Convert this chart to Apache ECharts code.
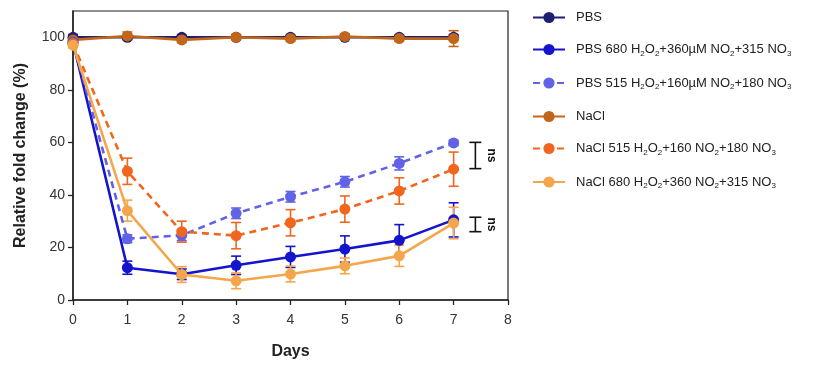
<!DOCTYPE html>
<html><head><meta charset="utf-8">
<script src="https://cdn.jsdelivr.net/npm/echarts@6/dist/echarts.min.js"></script>
<style>html,body{margin:0;padding:0;background:#fff}#c{width:835px;height:365px}</style>
</head><body><div id="c"></div>
<script>
const days = [0,1,2,3,4,5,6,7];
const xTicks = [0,1,2,3,4,5,6,7,8];
const yTicks = [0,20,40,60,80,100];

const names = ['PBS','PBS 680','PBS 515','NaCl','NaCl 515','NaCl 680'];
const labels = [
  'PBS',
  'PBS 680 H{s|2}O{s|2}+360µM NO{s|2}+315 NO{s|3}',
  'PBS 515 H{s|2}O{s|2}+160µM NO{s|2}+180 NO{s|3}',
  'NaCl',
  'NaCl 515 H{s|2}O{s|2}+160 NO{s|2}+180 NO{s|3}',
  'NaCl 680 H{s|2}O{s|2}+360 NO{s|2}+315 NO{s|3}'
];
const pbs      = [100, 100, 100, 100, 100, 100, 100, 100];
const pbs680   = [98, 12.3, 9.8, 13.2, 16.4, 19.4, 22.7, 30.5];
const pbs515   = [98, 23.3, 24.6, 33, 39.3, 45, 52, 59.8];
const nacl     = [99, 100.5, 99, 100, 99.5, 100.3, 99.5, 99.5];
const nacl515  = [97.5, 49, 26, 24.5, 29.4, 34.6, 41.5, 49.8];
const nacl680  = [97, 34, 9.7, 7.3, 9.9, 13, 16.8, 29.3];

const pbsErr     = [1, 0.8, 0.8, 0.8, 0.8, 0.8, 0.8, 1];
const pbs680Err  = [1, 2.5, 2, 3.5, 4, 5, 6, 6.5];
const pbs515Err  = [1, 1.5, 2, 2, 2, 2, 2.5, 1];
const naclErr    = [1, 1.5, 1, 1, 1, 1, 1, 3];
const nacl515Err = [1, 5, 4, 5, 5, 5, 5, 6.5];
const nacl680Err = [1, 4, 3, 3, 3, 3, 4, 6];

const nsBrackets = [[7.4, 50, 60], [7.4, 26, 31.5]];
const nsText = 'ns';

const colors = ['#1e1e72', '#1414cc', '#6262e6', '#c2661c', '#f0661f', '#f6a64a'];
const dashed = [false, false, true, false, true, false];
const vals = [pbs, pbs680, pbs515, nacl, nacl515, nacl680];
const errs = [pbsErr, pbs680Err, pbs515Err, naclErr, nacl515Err, nacl680Err];
const drawOrder = [0, 3, 1, 2, 4, 5];

const series = [];
drawOrder.forEach((i, o) => {
  series.push({
    name: names[i] + ' error', type: 'custom', silent: true, z: 2 + o * 0.01,
    itemStyle: { color: colors[i] },
    data: days.map((d, k) => [d, vals[i][k] - errs[i][k], vals[i][k] + errs[i][k]]),
    renderItem: (params, api) => {
      const x = api.value(0);
      const lo = api.coord([x, api.value(1)]);
      const hi = api.coord([x, api.value(2)]);
      const w = 5;
      const st = { stroke: colors[i], lineWidth: 1.6 };
      return { type: 'group', children: [
        { type: 'line', shape: { x1: lo[0], y1: lo[1], x2: hi[0], y2: hi[1] }, style: st },
        { type: 'line', shape: { x1: lo[0]-w, y1: lo[1], x2: lo[0]+w, y2: lo[1] }, style: st },
        { type: 'line', shape: { x1: hi[0]-w, y1: hi[1], x2: hi[0]+w, y2: hi[1] }, style: st }
      ]};
    }
  });
  series.push({
    name: names[i], type: 'line', z: 3 + o * 0.01,
    data: days.map((d, k) => [d, vals[i][k]]),
    symbol: 'circle', symbolSize: 11,
    itemStyle: { color: colors[i] },
    lineStyle: { color: colors[i], width: 2.6, type: dashed[i] ? [7, 5] : 'solid' }
  });
});

series.push({
  name: 'ns', type: 'custom', silent: true, z: 4,
  data: nsBrackets,
  renderItem: (params, api) => {
    const x = api.value(0);
    const lo = api.coord([x, api.value(1)]);
    const hi = api.coord([x, api.value(2)]);
    const w = 6;
    const st = { stroke: '#111', lineWidth: 1.6 };
    return { type: 'group', children: [
      { type: 'line', shape: { x1: lo[0], y1: lo[1], x2: hi[0], y2: hi[1] }, style: st },
      { type: 'line', shape: { x1: lo[0]-w, y1: lo[1], x2: lo[0]+w, y2: lo[1] }, style: st },
      { type: 'line', shape: { x1: hi[0]-w, y1: hi[1], x2: hi[0]+w, y2: hi[1] }, style: st },
      { type: 'text', x: lo[0] + 16, y: (lo[1] + hi[1]) / 2, rotation: -Math.PI / 2,
        style: { text: nsText, fill: '#111', font: 'bold 12px "Liberation Sans", Arial, sans-serif', align: 'center', verticalAlign: 'middle' } }
    ]};
  }
});

const chart = echarts.init(document.getElementById('c'), null, { renderer: 'canvas' });
chart.setOption({
  animation: false,
  backgroundColor: '#fff',
  textStyle: { fontFamily: '"Liberation Sans", Arial, sans-serif' },
  grid: { left: 73, right: 327, top: 11, bottom: 65, show: true, borderColor: '#222', borderWidth: 1.2, backgroundColor: 'transparent' },
  legend: {
    orient: 'vertical', left: 527, top: 6, itemGap: 19, itemWidth: 32, itemHeight: 14,
    data: names,
    formatter: n => labels[names.indexOf(n)],
    textStyle: { fontSize: 13, color: '#222', padding: [0, 0, 0, 6],
      rich: { s: { fontSize: 8, verticalAlign: 'bottom', padding: [8, 0, 0, 0], color: '#222' } } }
  },
  xAxis: {
    type: 'value', min: 0, max: 8, interval: 1,
    name: 'Days', nameLocation: 'middle', nameGap: 44,
    nameTextStyle: { fontSize: 16, fontWeight: 'bold', color: '#222' },
    axisLine: { show: true, lineStyle: { color: '#222', width: 1.5 } },
    axisTick: { show: true, length: 5, lineStyle: { color: '#222', width: 1.3 } },
    axisLabel: { fontSize: 14, color: '#333', margin: 13 },
    splitLine: { show: false }
  },
  yAxis: {
    type: 'value', min: 0, max: 110, interval: 20,
    name: 'Relative fold change (%)', nameLocation: 'middle', nameGap: 44,
    nameTextStyle: { fontSize: 16, fontWeight: 'bold', color: '#222' },
    axisLine: { show: true, lineStyle: { color: '#222', width: 1.5 } },
    axisTick: { show: true, length: 5, customValues: yTicks, lineStyle: { color: '#222', width: 1.3 } },
    axisLabel: { fontSize: 14, color: '#333', margin: 8, customValues: yTicks },
    splitLine: { show: false }
  },
  series: series
});
</script></body></html>
